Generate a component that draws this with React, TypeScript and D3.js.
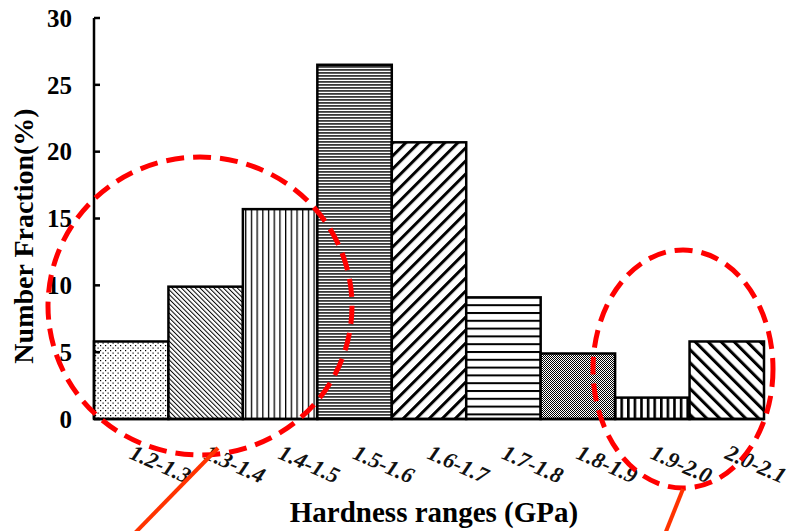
import React from "react";
import * as d3 from "d3";

const categories = ["1.2-1.3", "1.3-1.4", "1.4-1.5", "1.5-1.6", "1.6-1.7", "1.7-1.8", "1.8-1.9", "1.9-2.0", "2.0-2.1"];
const values = [5.8, 9.9, 15.7, 26.5, 20.7, 9.1, 4.9, 1.6, 5.8];
const yTicks = [0, 5, 10, 15, 20, 25, 30];
const xTitle = "Hardness ranges (GPa)";
const yTitle = "Number Fraction(%)";

const patternIds = ["pDots", "pDiagFine", "pVert", "pHorizDense", "pDiagUp", "pHoriz", "pChecker", "pVertThick", "pDiagDown"];

const W = 790;
const H = 531;
const left = 94;
const right = 764;
const top = 18;
const bottom = 419;

export default function App() {
  const x = d3.scaleBand<string>().domain(categories).range([left, right]).padding(0);
  const y = d3.scaleLinear().domain([0, 30]).range([bottom, top]);
  const serif = "'Liberation Serif', 'Times New Roman', serif";

  return (
    <svg width={W} height={H} style={{ position: "absolute", left: 0, top: 0, background: "#fff" }} viewBox={`0 0 ${W} ${H}`}>
      <defs>
        <pattern id="pDots" patternUnits="userSpaceOnUse" width={5} height={5}>
          <rect width={5} height={5} fill="#fff" />
          <rect x={0} y={0} width={1.2} height={1.2} fill="#000" />
          <rect x={2.5} y={2.5} width={1.2} height={1.2} fill="#000" />
        </pattern>
        <pattern id="pDiagFine" patternUnits="userSpaceOnUse" width={3.3} height={10} patternTransform="rotate(-45)">
          <rect width={3.3} height={10} fill="#fff" />
          <rect x={0} y={0} width={1} height={10} fill="#000" />
        </pattern>
        <pattern id="pVert" patternUnits="userSpaceOnUse" width={5.7} height={10}>
          <rect width={5.7} height={10} fill="#fff" />
          <rect x={0} y={0} width={1.3} height={10} fill="#000" />
        </pattern>
        <pattern id="pHorizDense" patternUnits="userSpaceOnUse" width={10} height={3}>
          <rect width={10} height={3} fill="#fff" />
          <rect x={0} y={0} width={10} height={1.8} fill="#3a3a3a" />
        </pattern>
        <pattern id="pDiagUp" patternUnits="userSpaceOnUse" width={9.2} height={10} patternTransform="rotate(45)">
          <rect width={9.2} height={10} fill="#fff" />
          <rect x={0} y={0} width={3} height={10} fill="#000" />
        </pattern>
        <pattern id="pHoriz" patternUnits="userSpaceOnUse" width={10} height={7.8}>
          <rect width={10} height={7.8} fill="#fff" />
          <rect x={0} y={0} width={10} height={2} fill="#000" />
        </pattern>
        <pattern id="pChecker" patternUnits="userSpaceOnUse" width={2} height={2}>
          <rect width={2} height={2} fill="#fff" />
          <rect x={0} y={0} width={1} height={1} fill="#000" />
          <rect x={1} y={1} width={1} height={1} fill="#000" />
        </pattern>
        <pattern id="pVertThick" patternUnits="userSpaceOnUse" width={6.6} height={10}>
          <rect width={6.6} height={10} fill="#fff" />
          <rect x={0} y={0} width={2.6} height={10} fill="#000" />
        </pattern>
        <pattern id="pDiagDown" patternUnits="userSpaceOnUse" width={9.2} height={10} patternTransform="rotate(-45)">
          <rect width={9.2} height={10} fill="#fff" />
          <rect x={0} y={0} width={3} height={10} fill="#000" />
        </pattern>
      </defs>

      {/* bars */}
      {categories.map((c, i) => (
        <rect
          key={c}
          x={x(c)}
          y={y(values[i])}
          width={x.bandwidth()}
          height={y(0) - y(values[i])}
          fill={`url(#${patternIds[i]})`}
          stroke="#000"
          strokeWidth={2.5}
        />
      ))}

      {/* axes */}
      <line x1={left} x2={left} y1={y(30)} y2={y(0)} stroke="#000" strokeWidth={2.5} />
      <line x1={left} x2={right} y1={y(0)} y2={y(0)} stroke="#000" strokeWidth={2.5} />
      {yTicks.map((t) => (
        <g key={t}>
          <line x1={left} x2={left + 6} y1={y(t)} y2={y(t)} stroke="#000" strokeWidth={2.5} />
          <text x={72} y={y(t)} dy="0.35em" textAnchor="end" fontFamily={serif} fontWeight="bold" fontSize={25} fill="#000">
            {t}
          </text>
        </g>
      ))}

      {/* x tick labels */}
      {categories.map((c) => {
        const cx = (x(c) as number) + x.bandwidth() / 2 - 3;
        const cy = 458;
        return (
          <text
            key={c}
            x={cx}
            y={cy}
            transform={`rotate(24 ${cx} ${cy})`}
            fontFamily={serif}
            fontStyle="italic"
            fontWeight="bold"
            fontSize={22.5}
            fill="#111"
          >
            {c}
          </text>
        );
      })}

      {/* titles */}
      <text x={434} y={522} textAnchor="middle" fontFamily={serif} fontWeight="bold" fontSize={29} fill="#000">
        {xTitle}
      </text>
      <text
        x={0}
        y={0}
        transform={`translate(33 ${236}) rotate(-90)`}
        textAnchor="middle"
        fontFamily={serif}
        fontWeight="bold"
        fontSize={28}
        fill="#000"
      >
        {yTitle}
      </text>

      {/* annotations */}
      <ellipse cx={200} cy={306} rx={152} ry={149} fill="none" stroke="#ff0000" strokeWidth={5} strokeDasharray="18 9" />
      <ellipse cx={683} cy={369} rx={90} ry={119} fill="none" stroke="#ff0000" strokeWidth={5} strokeDasharray="18 9" />
      <line x1={218} y1={448} x2={134} y2={534} stroke="#ff3300" strokeWidth={4} />
      <line x1={683} y1={489} x2={665} y2={534} stroke="#ff3300" strokeWidth={4} />
    </svg>
  );
}
